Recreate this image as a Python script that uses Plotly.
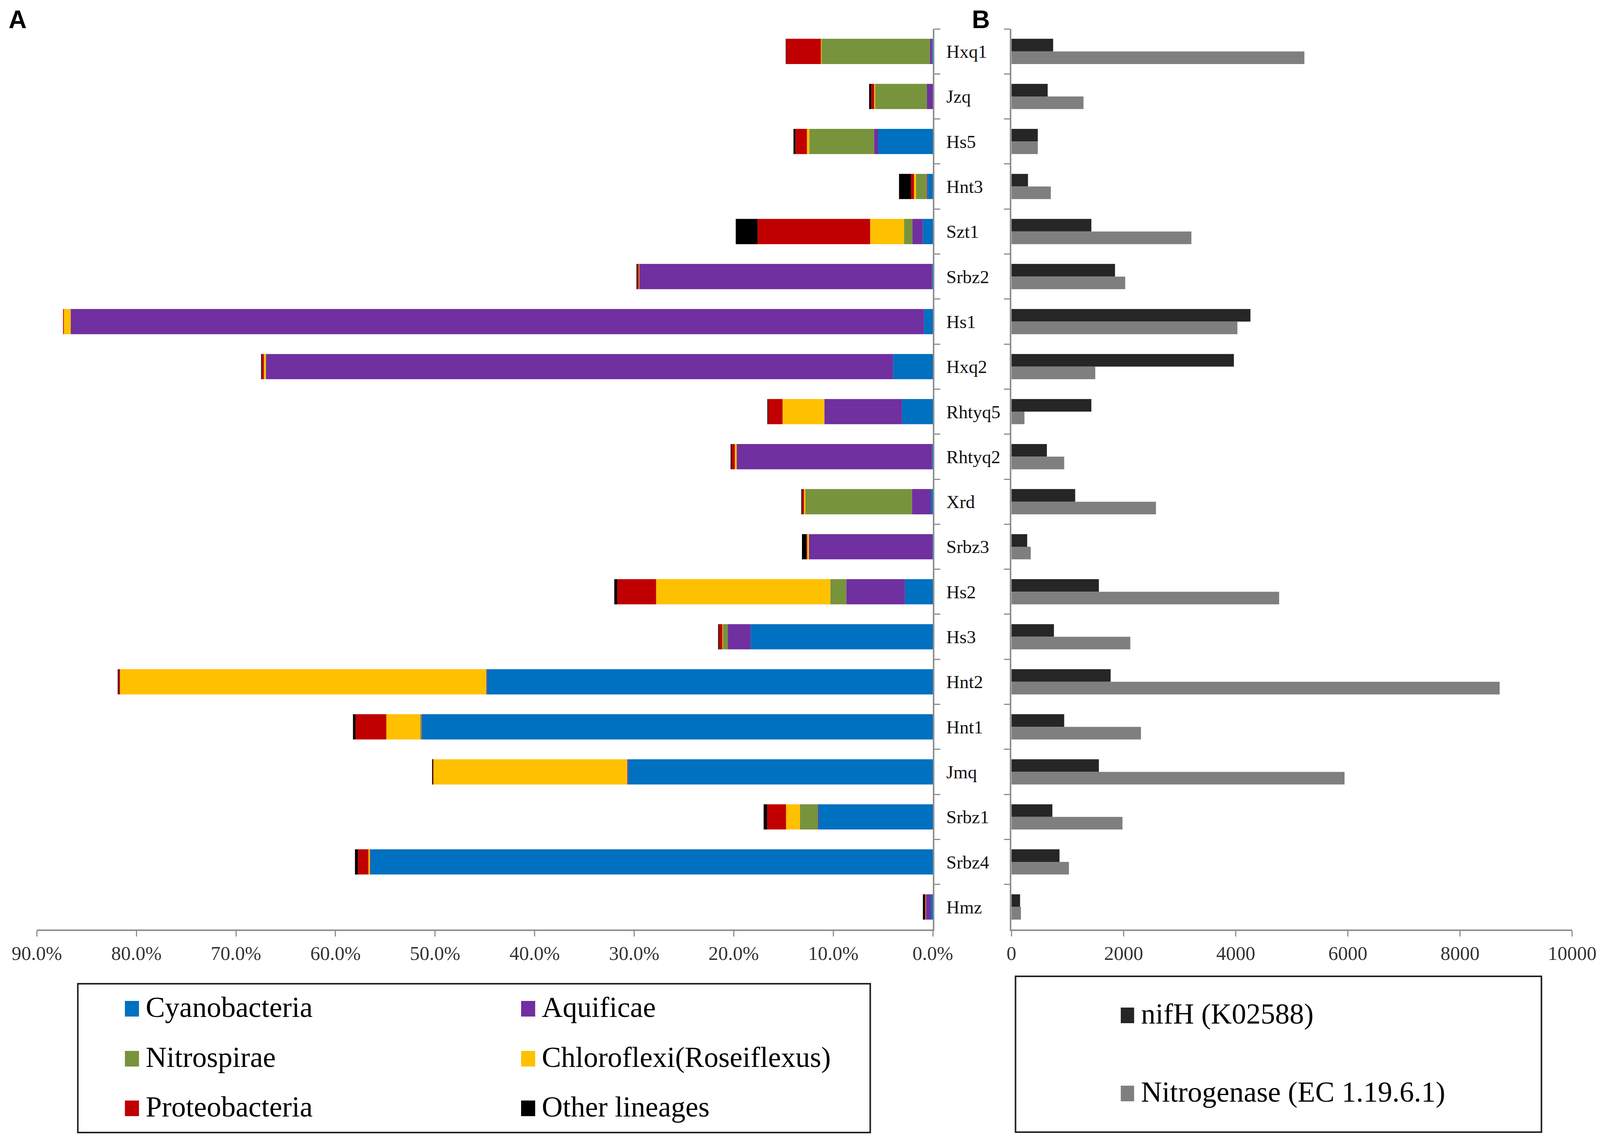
import plotly.graph_objects as go
import numpy as np

# ---------------- data ----------------
samples = ["Hxq1", "Jzq", "Hs5", "Hnt3", "Szt1", "Srbz2", "Hs1", "Hxq2", "Rhtyq5", "Rhtyq2",
           "Xrd", "Srbz3", "Hs2", "Hs3", "Hnt2", "Hnt1", "Jmq", "Srbz1", "Srbz4", "Hmz"]

phyla = ["Cyanobacteria", "Aquificae", "Nitrospirae", "Chloroflexi(Roseiflexus)",
         "Proteobacteria", "Other lineages"]

# relative abundance (%) of nifH-carrying lineages
cyanobacteria = [0.1, 0.0, 5.5, 0.5, 1.0, 0.1, 0.9, 4.0, 3.1, 0.1,
                 0.2, 0.05, 2.8, 18.3, 44.8, 51.3, 30.6, 11.5, 56.5, 0.2]
aquificae = [0.2, 0.6, 0.4, 0.1, 1.05, 29.4, 85.7, 63.0, 7.8, 19.6,
             1.9, 12.4, 5.9, 2.3, 0.05, 0.05, 0.1, 0.05, 0.05, 0.5]
nitrospirae = [10.9, 5.2, 6.5, 1.1, 0.85, 0.0, 0.0, 0.0, 0.0, 0.0,
               10.7, 0.0, 1.6, 0.5, 0.0, 0.15, 0.0, 1.8, 0.0, 0.0]
chloroflexi = [0.05, 0.1, 0.25, 0.2, 3.4, 0.05, 0.7, 0.2, 4.2, 0.2,
               0.15, 0.2, 17.5, 0.05, 36.8, 3.4, 19.5, 1.4, 0.15, 0.05]
proteobacteria = [3.5, 0.3, 1.15, 0.3, 11.3, 0.15, 0.05, 0.2, 1.45, 0.35,
                  0.2, 0.05, 3.9, 0.35, 0.15, 3.1, 0.05, 1.9, 1.05, 0.05]
other_lineages = [0.03, 0.2, 0.2, 1.2, 2.2, 0.05, 0.0, 0.05, 0.05, 0.05,
                  0.05, 0.45, 0.3, 0.05, 0.05, 0.25, 0.05, 0.35, 0.3, 0.2]

gene_names = ["nifH (K02588)", "Nitrogenase (EC 1.19.6.1)"]
nifH = [744, 646, 470, 295, 1425, 1847, 4262, 3967, 1425, 632,
        1137, 281, 1559, 758, 1769, 941, 1559, 730, 857, 154]
nitrogenase = [5224, 1285, 470, 702, 3209, 2029, 4030, 1495, 232, 941,
               2577, 344, 4774, 2120, 8706, 2310, 5940, 1980, 1025, 169]

pct_ticks = [90, 80, 70, 60, 50, 40, 30, 20, 10, 0]
pct_tick_labels = ["90.0%", "80.0%", "70.0%", "60.0%", "50.0%", "40.0%",
                   "30.0%", "20.0%", "10.0%", "0.0%"]
count_ticks = [0, 2000, 4000, 6000, 8000, 10000]
count_tick_labels = ["0", "2000", "4000", "6000", "8000", "10000"]

# ---------------- style ----------------
W, H = 4317, 2914
phyla_colors = ["#0070C0", "#7030A0", "#77933C", "#FFC000", "#C00000", "#000000"]
gene_colors = ["#262626", "#7F7F7F"]
SERIF = "Liberation Serif, Times New Roman, serif"
AXIS_GREY = "#8f8f8f"


def px(x):
    return x / W


def py(y):
    return 1 - y / H


fig = go.Figure()

series_A = [cyanobacteria, aquificae, nitrospirae, chloroflexi, proteobacteria, other_lineages]
base = np.zeros(len(samples))
for name, vals, col in zip(phyla, series_A, phyla_colors):
    fig.add_trace(go.Bar(
        y=samples, x=vals, base=base.copy(), orientation="h", name=name,
        marker=dict(color=col, line=dict(width=0)),
        offsetgroup="A", xaxis="x", yaxis="y", showlegend=False))
    base = base + np.array(vals)

for name, vals, col, grp in zip(gene_names, [nifH, nitrogenase], gene_colors, ["n", "g"]):
    fig.add_trace(go.Bar(
        y=samples, x=vals, orientation="h", name=name,
        marker=dict(color=col, line=dict(width=0)),
        offsetgroup=grp, xaxis="x2", yaxis="y2", showlegend=False))

ydom = [py(2380), py(74)]
axis_common = dict(showline=True, linecolor=AXIS_GREY, linewidth=4, showgrid=False,
                   zeroline=False, ticks="outside", tickcolor=AXIS_GREY, tickwidth=3,
                   automargin=False)

fig.update_layout(
    template="none",
    autosize=True,
    margin=dict(l=0, r=0, t=0, b=0, pad=0),
    paper_bgcolor="white", plot_bgcolor="white",
    barmode="group", bargap=0.44,
    showlegend=False,
    xaxis=dict(domain=[px(99.5), px(2517)], range=[90, 0], anchor="y",
               tickvals=pct_ticks, ticktext=pct_tick_labels, ticklen=14,
               tickfont=dict(family=SERIF, size=50, color="#333333"),
               **axis_common),
    yaxis=dict(domain=ydom, anchor="x", side="right", type="category",
               categoryorder="array", categoryarray=samples,
               autorange="reversed", tickson="boundaries", ticklen=15,
               ticklabelstandoff=21,
               tickfont=dict(family=SERIF, size=47, color="#111111"),
               **axis_common),
    xaxis2=dict(domain=[px(2729), px(4242)], range=[0, 10000], anchor="y2",
                tickvals=count_ticks, ticktext=count_tick_labels, ticklen=14,
                tickfont=dict(family=SERIF, size=50, color="#333333"),
                **axis_common),
    yaxis2=dict(domain=ydom, anchor="x2", side="left", type="category",
                categoryorder="array", categoryarray=samples,
                autorange="reversed", tickson="boundaries", ticklen=15,
                showticklabels=False, **axis_common),
)

shapes = []
annotations = []

# legend A (manual, boxed)
shapes.append(dict(type="rect", xref="paper", yref="paper",
                   x0=px(210), x1=px(2348), y0=py(2900), y1=py(2519),
                   line=dict(color="#222222", width=4), fillcolor="rgba(0,0,0,0)"))
col_x = [337, 1406]
row_y = [2583, 2711, 2838]
for i, (name, col) in enumerate(zip(phyla, phyla_colors)):
    cx = col_x[i % 2]
    cy = row_y[i // 2]
    shapes.append(dict(type="rect", xref="paper", yref="paper",
                       x0=px(cx), x1=px(cx + 38), y0=py(cy + 20), y1=py(cy - 20),
                       line=dict(width=0), fillcolor=col))
    annotations.append(dict(text=name, xref="paper", yref="paper",
                            x=px(cx + 54), y=py(cy - 4), xanchor="left", yanchor="middle",
                            showarrow=False, font=dict(family=SERIF, size=74, color="#000000")))

# legend B (manual, boxed)
shapes.append(dict(type="rect", xref="paper", yref="paper",
                   x0=px(2740), x1=px(4159), y0=py(2899), y1=py(2500),
                   line=dict(color="#222222", width=4), fillcolor="rgba(0,0,0,0)"))
for name, col, cy in zip(gene_names, gene_colors, [2600, 2800]):
    shapes.append(dict(type="rect", xref="paper", yref="paper",
                       x0=px(3024), x1=px(3060), y0=py(cy + 20), y1=py(cy - 20),
                       line=dict(width=0), fillcolor=col))
    annotations.append(dict(text=name, xref="paper", yref="paper",
                            x=px(3076), y=py(cy - 4), xanchor="left", yanchor="middle",
                            showarrow=False, font=dict(family=SERIF, size=74, color="#000000")))

# panel letters
for letter, x in [("A", 47), ("B", 2646)]:
    annotations.append(dict(text="<b>%s</b>" % letter, xref="paper", yref="paper",
                            x=px(x), y=py(50), xanchor="center", yanchor="middle",
                            showarrow=False,
                            font=dict(family="Liberation Sans, Arial, sans-serif", size=64,
                                      color="#000000")))

fig.update_layout(shapes=shapes, annotations=annotations)

fig.write_html(
    "out.html",
    default_width="100vw",
    default_height="100vh",
    config={"responsive": True, "displayModeBar": False},
    post_script=("document.body.style.margin='0';"
                 "document.body.style.overflow='hidden';"
                 "Plotly.Plots.resize(document.getElementById('{plot_id}'));"),
)
